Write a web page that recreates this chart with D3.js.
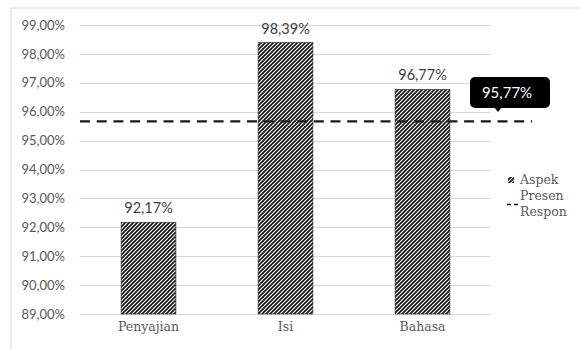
<!DOCTYPE html>
<html>
<head>
<meta charset="utf-8">
<script src="https://cdn.jsdelivr.net/npm/d3@7"></script>
<style>
  html, body { margin: 0; padding: 0; background: #fff; }
  svg { display: block; }
</style>
</head>
<body>
<svg id="chart" width="580" height="350"></svg>
<script>
// Bar categories and their percentage scores
const categories = ["Penyajian", "Isi", "Bahasa"];
const aspectValues = [92.17, 98.39, 96.77];
// Overall response average shown as a dashed reference line
const responseAverage = 95.77;
// Y-axis ticks
const yTicks = [89, 90, 91, 92, 93, 94, 95, 96, 97, 98, 99];
// Legend entries
const legendLabels = ["Aspek", "Presen", "Respon"];

const fmt = v => v.toFixed(2).replace(".", ",") + "%";

const svg = d3.select("#chart");
const plot = { left: 80, right: 491, top: 25, bottom: 314 };

const x = d3.scaleBand()
  .domain(categories)
  .range([plot.left, plot.right])
  .paddingInner(0.6)
  .paddingOuter(0.3);

const y = d3.scaleLinear()
  .domain([89, 99])
  .range([plot.bottom, plot.top]);

// Diagonal hatch fill for the bars
const defs = svg.append("defs");
const pat = defs.append("pattern")
  .attr("id", "hatch")
  .attr("patternUnits", "userSpaceOnUse")
  .attr("width", 4).attr("height", 4);
pat.append("rect").attr("width", 4).attr("height", 4).attr("fill", "#fff");
pat.append("path")
  .attr("d", "M-1,1 l2,-2 M0,4 l4,-4 M3,5 l2,-2")
  .attr("stroke", "#111").attr("stroke-width", 1.6);

// Chart frame (top and left edges)
svg.append("path")
  .attr("d", "M11,350 V8 H580")
  .attr("fill", "none").attr("stroke", "#d9d9d9").attr("stroke-width", 1);

// Gridlines
svg.append("g").selectAll("line").data(yTicks).join("line")
  .attr("x1", plot.left).attr("x2", plot.right)
  .attr("y1", d => Math.round(y(d)) + 0.5).attr("y2", d => Math.round(y(d)) + 0.5)
  .attr("stroke", "#d9d9d9").attr("stroke-width", 1);

// Y-axis labels
const yAxis = d3.axisLeft(y).tickValues(yTicks).tickFormat(fmt).tickSize(0).tickPadding(0);
const gy = svg.append("g").attr("transform", "translate(65,0)").call(yAxis);
gy.select(".domain").remove();
gy.selectAll("text")
  .attr("fill", "#595959")
  .style("font-family", "Lato, 'Open Sans', sans-serif")
  .style("font-size", "13px");

// X-axis category labels
const xAxis = d3.axisBottom(x).tickSize(0).tickPadding(0);
const gx = svg.append("g").attr("transform", "translate(0,320)").call(xAxis);
gx.select(".domain").remove();
gx.selectAll("text")
  .attr("fill", "#595959")
  .attr("dy", "0.9em")
  .style("font-family", "'DejaVu Serif', serif")
  .style("font-size", "12.5px");

// Bars
const data = categories.map((c, i) => ({ c, v: aspectValues[i] }));
svg.append("g").selectAll("rect").data(data).join("rect")
  .attr("x", d => x(d.c))
  .attr("y", d => y(d.v))
  .attr("width", x.bandwidth())
  .attr("height", d => y(89) - y(d.v))
  .attr("fill", "url(#hatch)")
  .attr("stroke", "#222").attr("stroke-width", 0.6);

// Value labels above bars
svg.append("g").selectAll("text").data(data).join("text")
  .attr("x", d => x(d.c) + x.bandwidth() / 2)
  .attr("y", d => y(d.v) - 9)
  .attr("text-anchor", "middle")
  .attr("fill", "#404040")
  .style("font-family", "Lato, 'Open Sans', sans-serif")
  .style("font-size", "14.5px")
  .text(d => fmt(d.v));

// Dashed average line
svg.append("line")
  .attr("x1", plot.left).attr("x2", 532)
  .attr("y1", y(responseAverage) + 3).attr("y2", y(responseAverage) + 3)
  .attr("stroke", "#1a1a1a").attr("stroke-width", 2.2)
  .attr("stroke-dasharray", "10,6.7");

// Callout label for the average
const cx = 510, cy = 93;
const callout = svg.append("g");
callout.append("rect")
  .attr("x", cx - 40).attr("y", cy - 16)
  .attr("width", 80).attr("height", 31).attr("rx", 5)
  .attr("fill", "#000");
callout.append("path")
  .attr("d", `M${cx - 16},${cy + 14} l4,5 l4,-5 Z`)
  .attr("fill", "#000");
callout.append("text")
  .attr("x", cx - 3).attr("y", cy)
  .attr("dy", "0.35em")
  .attr("text-anchor", "middle")
  .attr("fill", "#fff")
  .style("font-family", "Lato, 'Open Sans', sans-serif")
  .style("font-size", "15px")
  .text(fmt(responseAverage));

// Legend
const lg = svg.append("g");
lg.append("rect")
  .attr("x", 508).attr("y", 177).attr("width", 6).attr("height", 6)
  .attr("fill", "url(#hatch)");
lg.append("line")
  .attr("x1", 507).attr("x2", 520).attr("y1", 204.5).attr("y2", 204.5)
  .attr("stroke", "#1a1a1a").attr("stroke-width", 1.5)
  .attr("stroke-dasharray", "4,3");
lg.selectAll("text").data(legendLabels).join("text")
  .attr("x", 520)
  .attr("y", (d, i) => 180 + i * 16)
  .attr("dy", "0.35em")
  .attr("fill", "#595959")
  .style("font-family", "'DejaVu Serif', serif")
  .style("font-size", "12.5px")
  .text(d => d);
</script>
</body>
</html>
